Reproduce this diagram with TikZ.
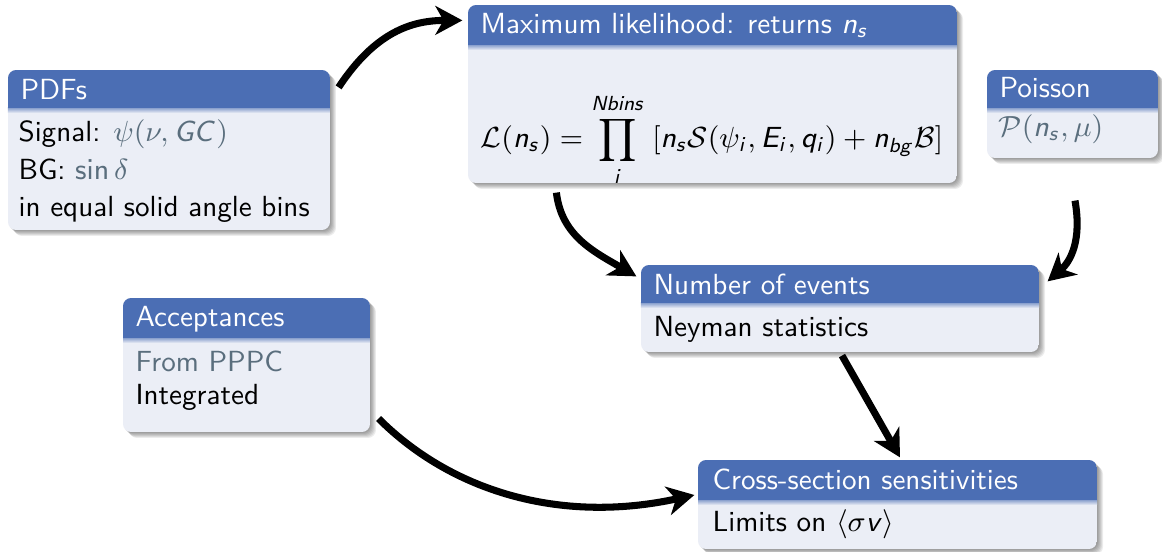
\RequirePackage{fix-cm}
\documentclass[tikz,border=0pt]{standalone}
\usepackage{amsmath}
\usetikzlibrary{arrows.meta,calc,fit}
\DeclareSymbolFont{sfletters}{OT1}{cmss}{m}{sl}
\DeclareSymbolFont{sfop}{OT1}{cmss}{m}{n}
\DeclareMathSymbol{n}{\mathalpha}{sfletters}{`n}
\DeclareMathSymbol{s}{\mathalpha}{sfletters}{`s}
\DeclareMathSymbol{i}{\mathalpha}{sfletters}{`i}
\DeclareMathSymbol{b}{\mathalpha}{sfletters}{`b}
\DeclareMathSymbol{g}{\mathalpha}{sfletters}{`g}
\DeclareMathSymbol{q}{\mathalpha}{sfletters}{`q}
\DeclareMathSymbol{v}{\mathalpha}{sfletters}{`v}
\DeclareMathSymbol{E}{\mathalpha}{sfletters}{`E}
\DeclareMathSymbol{G}{\mathalpha}{sfletters}{`G}
\DeclareMathSymbol{C}{\mathalpha}{sfletters}{`C}
\DeclareMathSymbol{N}{\mathalpha}{sfletters}{`N}
\makeatletter
\renewcommand\operator@font{\mathgroup\symsfop}
\makeatother
\definecolor{titlec}{RGB}{75,110,180}
\definecolor{bodyc}{RGB}{235,238,246}
\definecolor{grayc}{RGB}{90,110,125}
\newcommand\blk[6]{%
  \foreach \k in {1,...,6}{\fill[black,opacity=0.075,rounded corners=2.7pt] (#2+\k,#3+\k) rectangle (#4+\k,#5+\k);}
  \begin{scope}
    \clip[rounded corners=2.7pt] (#2,#3) rectangle (#4,#5);
    \fill[bodyc] (#2,#3) rectangle (#4,#5);
    \shade[top color=titlec!60!bodyc, bottom color=bodyc] (#2,#6) rectangle (#4,#6+5);
    \fill[titlec] (#2,#3) rectangle (#4,#6);
  \end{scope}
  \path (#2,#3) coordinate (#1-nw) (#4,#5) coordinate (#1-se);
  \node[inner sep=0pt,fit=(#1-nw)(#1-se)] (#1) {};
}
\begin{document}
\begin{tikzpicture}[x=0.3333pt,y=-0.3333pt,
  txt/.style={inner sep=0pt,anchor=base west,font=\fontsize{9.7}{12}\selectfont\sffamily},
  ttl/.style={txt,text=white},
  arr/.style={line width=2.35pt,-{Stealth[length=9pt,width=9.6pt,inset=2.7pt]}}]
\useasboundingbox (0,0) rectangle (1162,552);
\fill[white] (0,0) rectangle (1162,552);
% blocks
\blk{pdfs}{8}{70}{330}{230}{108}
\blk{ml}{468}{5}{957}{183}{45}
\blk{poi}{987}{70}{1158}{158}{108}
\blk{noe}{641}{265}{1039}{352}{303}
\blk{acc}{123}{298}{370}{432}{338}
\blk{cs}{698}{460}{1097}{549}{500}
% texts
\node[ttl] (pdfs-t) at (20,100) {PDFs};
\node[txt] (pdfs-1) at (18,142) {Signal: \textcolor{grayc}{$\psi(\nu, GC)$}};
\node[txt] (pdfs-2) at (18,180) {BG: \textcolor{grayc}{$\sin\delta$}};
\node[txt] (pdfs-3) at (18,217) {in equal solid angle bins};
\node[ttl] (ml-t) at (480,34) {Maximum likelihood: returns $n_s$};
\node[txt,anchor=base] (ml-f) at (712,148) {$\displaystyle \mathcal{L}(n_s) = \prod_{i}^{Nbins}\;[n_s\mathcal{S}(\psi_i,E_i,q_i)+n_{bg}\mathcal{B}]$};
\node[ttl] (poi-t) at (999,98) {Poisson};
\node[txt] (poi-1) at (998,137) {\textcolor{grayc}{$\mathcal{P}(n_s,\mu)$}};
\node[ttl] (noe-t) at (653,295) {Number of events};
\node[txt] (noe-1) at (653,337) {Neyman statistics};
\node[ttl] (acc-t) at (135,327) {Acceptances};
\node[txt,text=grayc] (acc-1) at (135,372) {From PPPC};
\node[txt] (acc-2) at (135,405) {Integrated};
\node[ttl] (cs-t) at (712,490) {Cross-section sensitivities};
\node[txt] (cs-1) at (712,532) {Limits on $\langle\sigma v\rangle$};
% arrows
\draw[arr] ($(pdfs.north east)+(8,18)$) .. controls ($(pdfs.north east)+(45,-38)$) and ($(ml.north west)+(-55,16)$) .. ($(ml.north west)+(-5,16)$);
\draw[arr] ($(ml.south west)+(89,9)$) .. controls ($(ml.south west)+(94,52)$) and ($(noe.north west)+(-47,-13)$) .. ($(noe.north west)+(-4,12)$);
\draw[arr] ($(poi.south)+(2.5,42)$) .. controls ($(poi.south)+(9.5,82)$) and ($(noe.north east)+(31,-3)$) .. ($(noe.north east)+(8,17)$);
\draw[arr] ($(noe.south)+(2,3)$) -- ($(cs.north)+(2.5,-2)$);
\draw[arr] ($(acc.south east)+(8,-14)$) .. controls ($(acc.south east)+(80,58)$) and ($(cs.west)+(-138,20)$) .. ($(cs.west)+(-3,-9.5)$);
\end{tikzpicture}
\end{document}
